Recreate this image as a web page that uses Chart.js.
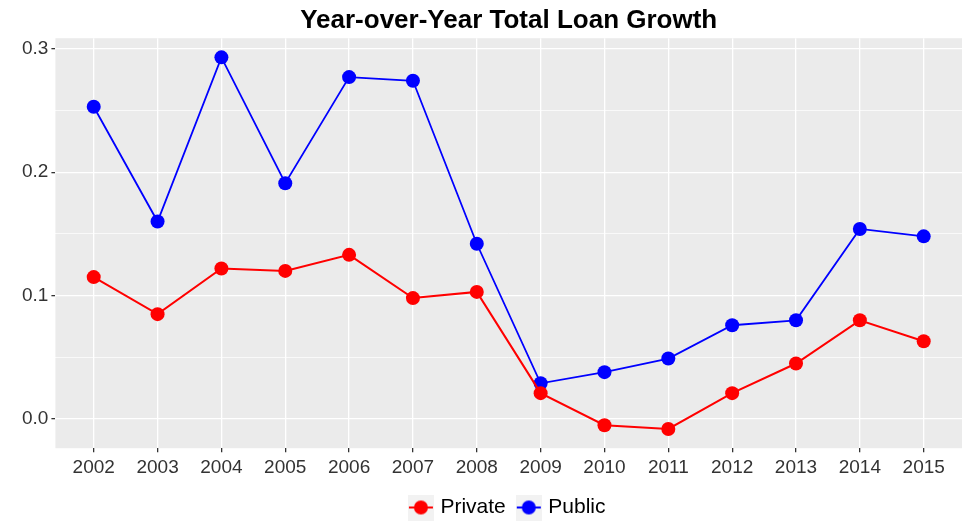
<!DOCTYPE html>
<html lang="en">
  <head>
    <meta charset="UTF-8" />
    <title>Year-over-Year Total Loan Growth</title>
    <script src="https://cdn.jsdelivr.net/npm/chart.js@4"></script>
    <style>
      html, body { margin: 0; padding: 0; background: #fff; }
      #wrap { width: 973px; height: 522px; }
    </style>
  </head>
  <body>
    <div id="wrap">
      <canvas id="myChart"></canvas>
    </div>

  <script>
    // data
    const years = [2002, 2003, 2004, 2005, 2006, 2007, 2008, 2009, 2010, 2011, 2012, 2013, 2014, 2015];
    const privateGrowth = [0.115, 0.085, 0.122, 0.120, 0.133, 0.098, 0.103, 0.021, -0.005, -0.008, 0.021, 0.045, 0.080, 0.063];
    const publicGrowth = [0.253, 0.160, 0.293, 0.191, 0.277, 0.274, 0.142, 0.029, 0.038, 0.049, 0.076, 0.080, 0.154, 0.148];
    const yTicks = [0.0, 0.1, 0.2, 0.3];

    const FONT = "'Liberation Sans', Arial, sans-serif";

    // legend key: grey square with line + dot, like ggplot
    function makeKey(color) {
      const c = document.createElement('canvas');
      c.width = 26; c.height = 26;
      const g = c.getContext('2d');
      g.fillStyle = '#f2f2f2';
      g.fillRect(0, 0, 26, 26);
      g.strokeStyle = color;
      g.lineWidth = 2;
      g.beginPath(); g.moveTo(1, 13); g.lineTo(25, 13); g.stroke();
      g.fillStyle = color;
      g.beginPath(); g.arc(13, 13, 7, 0, Math.PI * 2); g.fill();
      return c;
    }

    // grey panel behind the plot
    const panelBg = {
      id: 'panelBg',
      beforeDraw(chart) {
        const a = chart.chartArea;
        const ctx = chart.ctx;
        ctx.save();
        ctx.fillStyle = '#ebebeb';
        ctx.fillRect(a.left, a.top, a.right - a.left, a.bottom - a.top);
        ctx.restore();
      }
    };

    const isMajor = (v) => yTicks.some(t => Math.abs(t - v) < 1e-6);

    const data = {
      datasets: [{
        label: 'Private',
        data: years.map((y, i) => ({ x: y, y: privateGrowth[i] })),
        borderColor: '#ff0000',
        backgroundColor: '#ff0000',
        borderWidth: 2,
        pointRadius: 7,
        pointBorderWidth: 0,
        tension: 0
      }, {
        label: 'Public',
        data: years.map((y, i) => ({ x: y, y: publicGrowth[i] })),
        borderColor: '#0000ff',
        backgroundColor: '#0000ff',
        borderWidth: 1.8,
        pointRadius: 7,
        pointBorderWidth: 0,
        tension: 0
      }]
    };

    const config = {
      type: 'line',
      data: data,
      plugins: [panelBg],
      options: {
        responsive: true,
        maintainAspectRatio: false,
        animation: false,
        layout: { padding: { left: 19, right: 11, top: 0, bottom: -6 } },
        scales: {
          x: {
            type: 'linear',
            min: 2001.4,
            max: 2015.6,
            border: { display: false },
            grid: { color: '#ffffff', lineWidth: 1.3, tickColor: '#333333', tickLength: 4 },
            ticks: {
              stepSize: 1,
              includeBounds: false,
              padding: 4,
              color: '#333333',
              font: { family: FONT, size: 19 },
              callback: (v) => String(v)
            }
          },
          y: {
            min: -0.0236,
            max: 0.3085,
            border: { display: false },
            grid: {
              color: '#ffffff',
              lineWidth: (c) => isMajor(c.tick.value) ? 1.3 : 0.7,
              tickColor: (c) => isMajor(c.tick.value) ? '#333333' : 'rgba(0,0,0,0)',
              tickLength: 4
            },
            ticks: {
              stepSize: 0.05,
              includeBounds: false,
              padding: 3,
              color: '#333333',
              font: { family: FONT, size: 19 },
              callback: (v) => isMajor(v) ? v.toFixed(1) : ''
            }
          }
        },
        plugins: {
          title: {
            display: true,
            fullSize: false,
            text: 'Year-over-Year Total Loan Growth',
            color: '#000000',
            font: { family: FONT, size: 26, weight: 'bold' },
            padding: { top: 5, bottom: 2 }
          },
          legend: {
            position: 'bottom',
            fullSize: false,
            labels: {
              usePointStyle: true,
              pointStyleWidth: 18,
              padding: 14,
              color: '#000000',
              font: { family: FONT, size: 21 },
              generateLabels(chart) {
                const items = Chart.defaults.plugins.legend.labels.generateLabels(chart);
                items.forEach(it => {
                  it.pointStyle = makeKey(chart.data.datasets[it.datasetIndex].borderColor);
                });
                return items;
              }
            }
          },
          tooltip: { enabled: false }
        }
      }
    };

    const myChart = new Chart(document.getElementById('myChart'), config);
  </script>
  </body>
</html>
